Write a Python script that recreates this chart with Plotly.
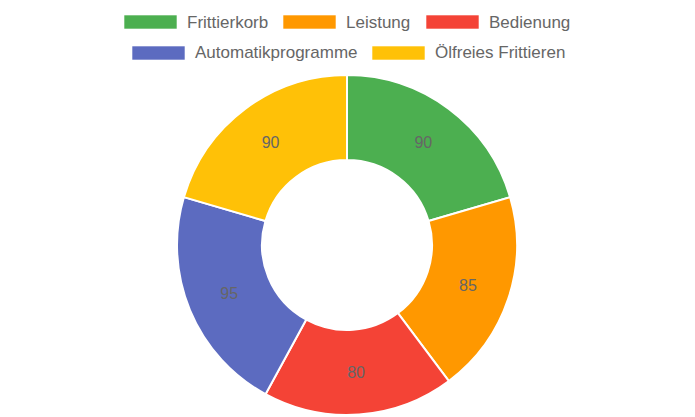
import plotly.graph_objects as go

categories = ["Frittierkorb", "Leistung", "Bedienung", "Automatikprogramme", "Ölfreies Frittieren"]
values = [90, 85, 80, 95, 90]
colors = ["#4CAF50", "#FF9800", "#F44336", "#5C6BC0", "#FFC107"]

W, H = 695, 417
FONT = "Liberation Sans, Arial, sans-serif"
TXT = "#666666"

fig = go.Figure()
cx, cy, R = 347, 245, 170
fig.add_trace(go.Pie(
    labels=categories, values=values, sort=False, direction="clockwise", rotation=0,
    hole=0.5, marker=dict(colors=colors, line=dict(color="white", width=2)),
    textinfo="value", textposition="inside", insidetextorientation="horizontal",
    textfont=dict(family=FONT, size=16, color=TXT),
    domain=dict(x=[(cx - R) / W, (cx + R) / W], y=[1 - (cy + R) / H, 1 - (cy - R) / H]),
    showlegend=False,
))

# custom legend (Chart.js style wide boxes)
legend_rows = [
    [(0, 124), (1, 283), (2, 426)],
    [(3, 132), (4, 372)],
]
row_y = [22, 53]
shapes, annotations = [], []
for r, row in enumerate(legend_rows):
    yc = row_y[r]
    for idx, x0 in row:
        shapes.append(dict(type="rect", xref="paper", yref="paper",
                           x0=x0 / W, x1=(x0 + 53) / W,
                           y0=1 - (yc + 7) / H, y1=1 - (yc - 7) / H,
                           fillcolor=colors[idx], line=dict(color="rgba(255,255,255,0.6)", width=1)))
        annotations.append(dict(xref="paper", yref="paper", x=(x0 + 61) / W, y=1 - yc / H,
                                text=categories[idx], showarrow=False, xanchor="left", yanchor="middle",
                                font=dict(family=FONT, size=17, color=TXT)))

fig.update_layout(
    width=W, height=H, margin=dict(l=0, r=0, t=0, b=0),
    paper_bgcolor="white", plot_bgcolor="white",
    shapes=shapes, annotations=annotations,
)
fig.write_html("out.html")
